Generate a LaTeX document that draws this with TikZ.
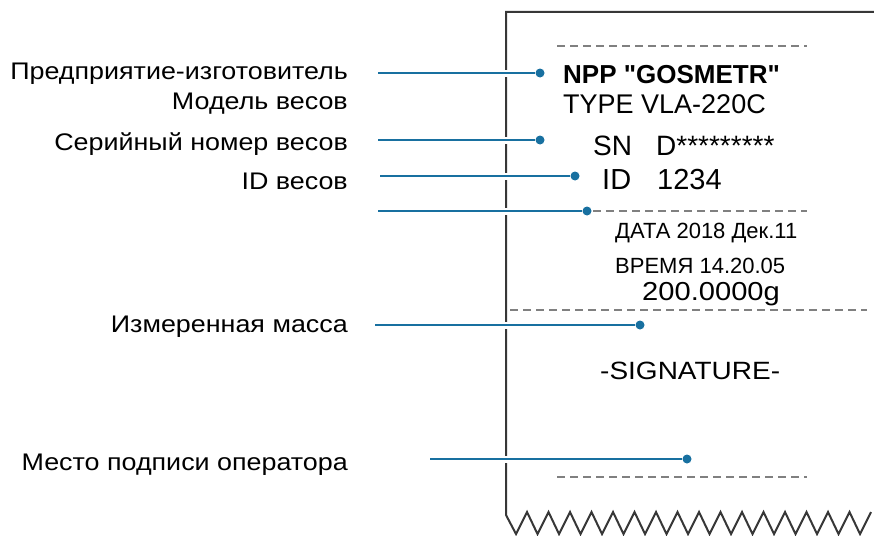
\documentclass[tikz,border=0pt]{standalone}
\usepackage{fontspec}
\setmainfont{Liberation Sans}
\newfontfamily\widefont[FakeStretch=1.12]{Liberation Sans}
\newfontfamily\slipfont[Ligatures=TeXOff]{Liberation Sans}
\usetikzlibrary{positioning}
\definecolor{leadblue}{RGB}{24,112,160}
\definecolor{rimgray}{RGB}{55,55,55}

\begin{document}
\begin{tikzpicture}[
  x=1pt, y=-1pt,
  lbl/.style={anchor=base east, inner sep=0pt, font=\widefont\fontsize{24}{27}\selectfont},
  slip/.style={anchor=base west, inner sep=0pt},
  bead/.style={circle, fill=leadblue, minimum size=9pt, inner sep=0pt},
  lead/.style={leadblue, line width=1.6pt, preaction={draw=white, line width=7pt}},
  rim/.style={rimgray, line width=2pt, line join=miter},
  tear/.style={gray, line width=1.3pt, dash pattern=on 8pt off 5pt}
]
  \useasboundingbox (0,0) rectangle (874,535);

  % receipt paper
  \draw[rim] (874,12) -- (506,12) -- (506,515)
    \foreach \k in {0,...,16} { -- ({516+21.5*\k},534) -- ({527+21.5*\k},512) };
  \draw[tear] (557,46) -- (807,46);
  \draw[tear] (593,211) -- (807,211);
  \draw[tear] (510,310) -- (867,310);
  \draw[tear] (557,477) -- (807,477);

  % printed lines
  \node[slip, font=\slipfont\bfseries\fontsize{26}{30}\selectfont] (maker) at (563,83) {NPP "GOSMETR"};
  \node[slip, font=\fontsize{27}{30}\selectfont] (model) at (563,113) {TYPE VLA-220C};
  \node[slip, font=\fontsize{28}{30}\selectfont] (snkey) at (593,155) {SN};
  \node[slip, font=\fontsize{28}{30}\selectfont] (snval) at (656,155) {D*********};
  \node[slip, font=\fontsize{29}{30}\selectfont] (idkey) at (602,189) {ID};
  \node[slip, font=\fontsize{29}{30}\selectfont] (idval) at (657,189) {1234};
  \node[slip, font=\fontsize{22}{24}\selectfont] (date) at (615,238) {ДАТА 2018 Дек.11};
  \node[slip, font=\fontsize{22}{24}\selectfont] (time) at (615,273) {ВРЕМЯ 14.20.05};
  \node[slip, font=\widefont\fontsize{26}{30}\selectfont] (mass) at (642,300) {200.0000g};
  \node[slip, font=\widefont\fontsize{25}{30}\selectfont] (sign) at (600,379) {-SIGNATURE-};

  % captions
  \node[lbl] (lMaker) at (348,79) {Предприятие-изготовитель};
  \node[lbl] (lModel) at (348,109) {Модель весов};
  \node[lbl] (lSerial) at (348,150) {Серийный номер весов};
  \node[lbl] (lId) at (348,189) {ID весов};
  \node[lbl] (lMass) at (348,332) {Измеренная масса};
  \node[lbl] (lSign) at (348,470) {Место подписи оператора};

  % leaders
  \foreach \n/\xs/\xd/\yy in {a/378/540/73, b/378/540/140, c/380/575/176,
                              d/378/587/211, e/375/640/325, f/430/687/459} {
    \coordinate (s\n) at (\xs,\yy);
    \node[bead] (d\n) at (\xd,\yy) {};
    \draw[lead] (s\n) -- (d\n);
  }
\end{tikzpicture}
\end{document}
